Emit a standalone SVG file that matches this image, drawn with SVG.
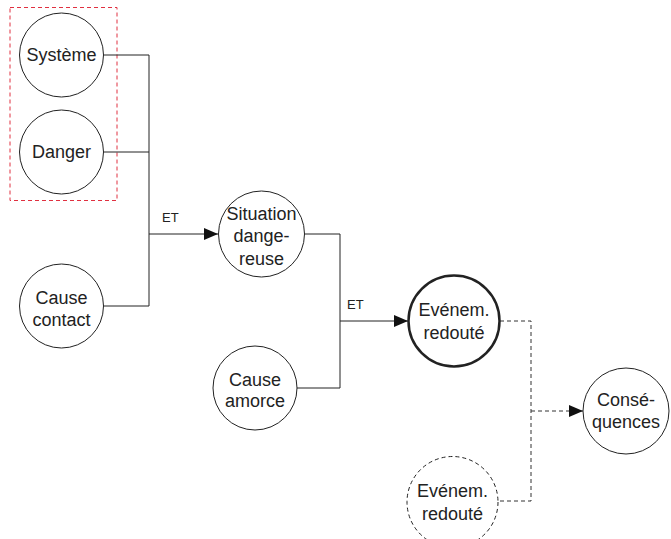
<svg xmlns="http://www.w3.org/2000/svg" width="671" height="539" viewBox="0 0 671 539">
<defs>
<marker id="arr" viewBox="0 0 10 10" refX="10" refY="5" markerWidth="10" markerHeight="10" markerUnits="userSpaceOnUse" orient="auto">
<path d="M0,0 L10,5 L0,10 z" fill="#111"/>
</marker>
<marker id="arrL" viewBox="0 0 14 12" refX="14" refY="6" markerWidth="14" markerHeight="12" markerUnits="userSpaceOnUse" orient="auto">
<path d="M0,0 L14,6 L0,12 z" fill="#111"/>
</marker>
</defs>
<style>
.n{fill:#fff;stroke:#222;stroke-width:1}
.t{font-family:"Liberation Sans",Arial,sans-serif;font-size:18px;fill:#222;text-anchor:middle}
.et{font-family:"Liberation Sans",Arial,sans-serif;font-size:13px;fill:#222}
.c{fill:none;stroke:#222;stroke-width:1}
.d{fill:none;stroke:#333;stroke-width:1;stroke-dasharray:4,3}
</style>
<rect x="10" y="7.5" width="107" height="193" fill="none" stroke="#e03040" stroke-width="1" stroke-dasharray="4,3"/>
<g id="connectors">
<path class="c" d="M104,55 H149 M104,152 H149 M104,306 H149 M149,55 V306"/>
<path class="c" d="M149,234 H218" marker-end="url(#arrL)"/>
<path class="c" d="M305,234 H340 V388 H297"/>
<path class="c" d="M340,321 H408" marker-end="url(#arrL)"/>
<path class="d" d="M500,321 H531 V501 H498"/>
<path class="d" d="M531,411 H583" marker-end="url(#arrL)"/>
<text class="et" x="162" y="222">ET</text>
<text class="et" x="347" y="309">ET</text>
</g>
<g id="systeme"><circle class="n" cx="61.5" cy="55" r="42"/><text class="t" x="61.5" y="61">Système</text></g>
<g id="danger"><circle class="n" cx="61.5" cy="152" r="42"/><text class="t" x="61.5" y="158">Danger</text></g>
<g id="cause-contact"><circle class="n" cx="61.5" cy="306" r="42"/><text class="t" x="61.5" y="304">Cause</text><text class="t" x="61.5" y="326">contact</text></g>
<g id="situation"><circle class="n" cx="261.5" cy="234" r="43"/><text class="t" x="261.5" y="220">Situation</text><text class="t" x="261.5" y="242">dange-</text><text class="t" x="261.5" y="265">reuse</text></g>
<g id="cause-amorce"><circle class="n" cx="255" cy="388" r="42"/><text class="t" x="255" y="386">Cause</text><text class="t" x="255" y="407">amorce</text></g>
<g id="evenement"><circle class="n" cx="454" cy="321" r="45.5" style="stroke-width:2.5"/><text class="t" x="454" y="316">Evénem.</text><text class="t" x="454" y="339">redouté</text></g>
<g id="consequences"><circle class="n" cx="626" cy="411" r="43"/><text class="t" x="626" y="406">Consé-</text><text class="t" x="626" y="428">quences</text></g>
<g id="evenement2"><circle class="n" cx="452.5" cy="502" r="45.5" style="stroke-dasharray:4,3"/><text class="t" x="452.5" y="497">Evénem.</text><text class="t" x="452.5" y="520">redouté</text></g>
</svg>
